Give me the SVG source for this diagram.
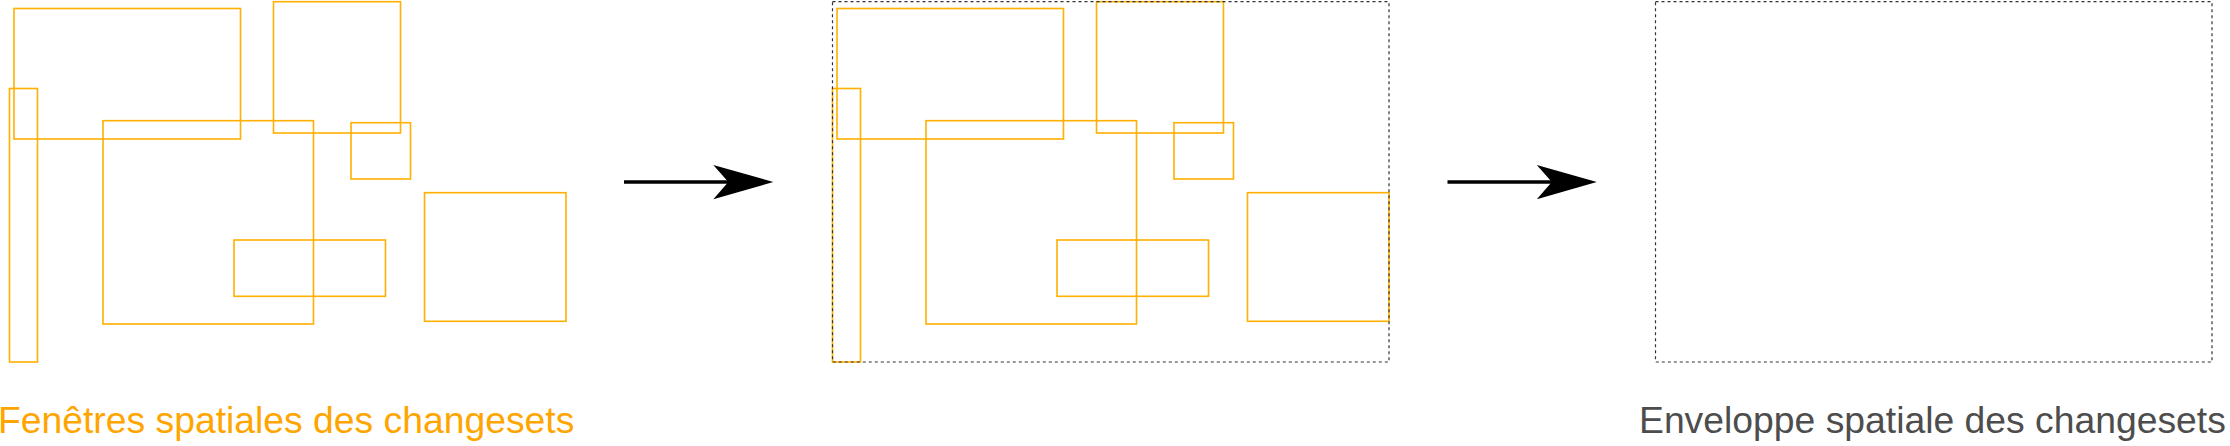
<svg xmlns="http://www.w3.org/2000/svg" width="2230" height="446" viewBox="0 0 2230 446">
  <style>
    .win { fill: none; stroke: #ffb000; stroke-width: 1.6; }
    .env { fill: none; stroke: #333333; stroke-width: 1.2; stroke-dasharray: 3 3; }
    .conn { stroke: #000000; stroke-width: 3.3; fill: none; }
    .head { fill: #000000; stroke: none; }
    .lbl { font-family: "Liberation Sans", Arial, Helvetica, sans-serif; font-size: 37.3px; }
  </style>
  <defs>
    <g id="windows">
      <rect class="win" x="14" y="8.5" width="226.5" height="130.5"/>
      <rect class="win" x="9.5" y="88.5" width="28" height="273.5"/>
      <rect class="win" x="103" y="120.7" width="210.5" height="203.3"/>
      <rect class="win" x="273.5" y="1.7" width="127" height="131.3"/>
      <rect class="win" x="351" y="122.7" width="59.5" height="56.3"/>
      <rect class="win" x="234" y="240" width="151.5" height="56.3"/>
      <rect class="win" x="424.5" y="192.7" width="141.5" height="128.6"/>
    </g>
  </defs>

  <g id="windows-input">
    <use href="#windows"/>
    <text class="lbl" x="-2" y="433" fill="#ffa500">Fenêtres spatiales des changesets</text>
  </g>

  <g id="windows-with-envelope">
    <use href="#windows" transform="translate(823,0)"/>
    <rect class="env" x="832.5" y="1.7" width="556.5" height="360.3"/>
  </g>

  <g id="envelope-result">
    <rect class="env" x="1655.5" y="1.7" width="556.5" height="360.3"/>
    <text class="lbl" x="1639" y="433" fill="#4d4d4d">Enveloppe spatiale des changesets</text>
  </g>

  <g id="connectors">
    <line class="conn" x1="624" y1="182" x2="730" y2="182"/>
    <polygon class="head" points="773.3,182 713.3,165 728.3,182 713.3,199.3"/>
    <line class="conn" x1="1447.5" y1="182" x2="1553" y2="182"/>
    <polygon class="head" points="1596.8,182 1536.8,165 1551.8,182 1536.8,199.3"/>
  </g>
</svg>
